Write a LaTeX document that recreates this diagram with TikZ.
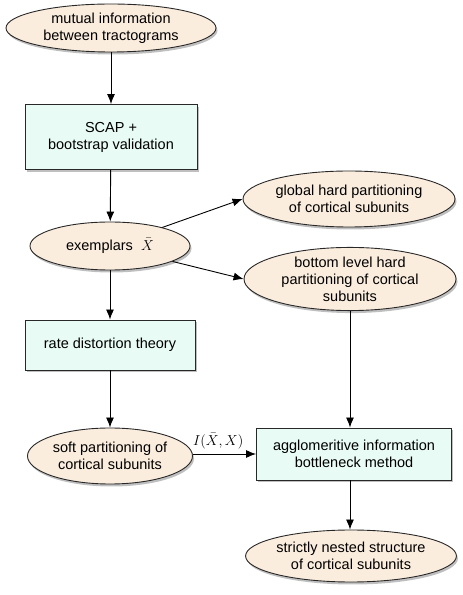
\documentclass[tikz,border=0pt]{standalone}
\usepackage{fontspec}
\setmainfont{Liberation Sans}
\usetikzlibrary{shapes.geometric,shadows,arrows.meta}
\definecolor{ellfill}{RGB}{251,237,222}
\definecolor{boxfill}{RGB}{232,251,244}
\definecolor{edge}{RGB}{40,40,40}
\tikzset{
  shade/.style={drop shadow={opacity=0.5,shadow xshift=1.5pt,shadow yshift=-2.5pt}},
  oval/.style={ellipse,draw=edge,line width=0.9pt,fill=ellfill,shade,inner sep=0pt,align=center,font=\fontsize{14.5}{17}\selectfont},
  rbox/.style={rectangle,draw=edge,line width=0.9pt,fill=boxfill,shade,inner sep=0pt,align=center,font=\fontsize{14.5}{17}\selectfont},
  arr/.style={-{Latex[length=10pt,width=8pt]},line width=0.9pt,black}
}
\begin{document}
\begin{tikzpicture}[x=1pt,y=1pt]
\useasboundingbox (0,0) rectangle (463,595);
\node[oval,minimum width=210,minimum height=48] (mi) at (111,567) {mutual information\\between tractograms};
\node[rbox,minimum width=172,minimum height=65] (scap) at (111,458) {SCAP +\\bootstrap validation};
\node[oval,minimum width=160,minimum height=48] (ex) at (110,349) {exemplars\ \ $\bar{X}$};
\node[oval,minimum width=212,minimum height=56] (gl) at (349,396) {global hard partitioning\\of cortical subunits};
\node[oval,minimum width=212,minimum height=62] (bl) at (350,316) {bottom level hard\\partitioning of cortical\\subunits};
\node[rbox,minimum width=170,minimum height=50] (rd) at (110,250) {rate distortion theory};
\node[oval,minimum width=165,minimum height=56] (sp) at (110,139) {soft partitioning of\\cortical subunits};
\node[rbox,minimum width=195,minimum height=52] (ag) at (354,141) {agglomeritive information\\bottleneck method};
\node[oval,minimum width=210,minimum height=52] (sn) at (351,39) {strictly nested structure\\of cortical subunits};
\draw[arr] (mi) -- (scap);
\draw[arr] (scap) -- (ex);
\draw[arr] (ex) -- (rd);
\draw[arr] (rd) -- (sp);
\draw[arr] (ex) -- (gl.west);
\draw[arr] (ex) -- (bl.west);
\draw[arr] (bl.south) -- (bl.south |- ag.north);
\draw[arr] (bl.south |- ag.south) -- (sn.north -| bl.south);
\draw[arr] (sp.east |- ag.west) -- node[above=1pt,pos=0.4,font=\fontsize{15}{17}\selectfont] {$I(\bar{X},X)$} (ag.west);
\end{tikzpicture}
\end{document}
